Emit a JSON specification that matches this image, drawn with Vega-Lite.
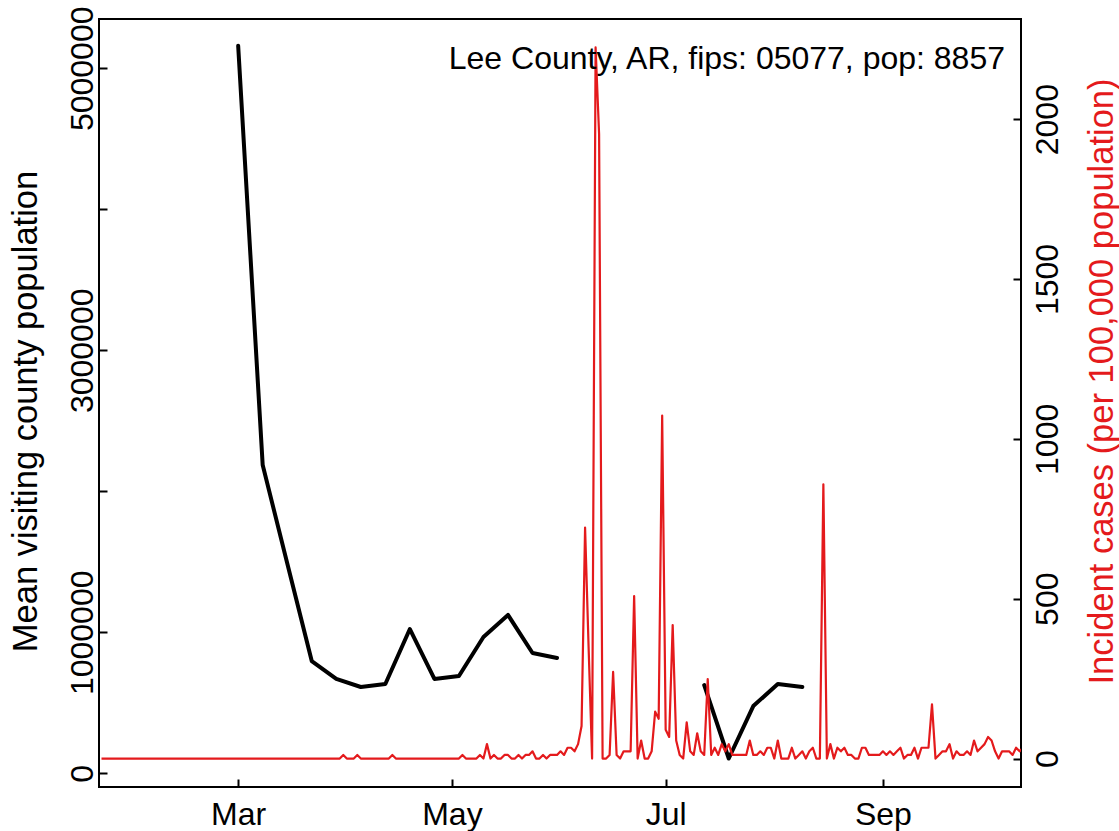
{
  "$schema": "https://vega.github.io/schema/vega-lite/v6.json",
  "width": 922,
  "height": 768,
  "autosize": {"type": "none"},
  "padding": {"left": 99, "top": 19, "right": 98, "bottom": 44},
  "background": "white",
  "config": {
    "font": "Liberation Sans",
    "view": {"stroke": "black", "strokeWidth": 2},
    "axis": {
      "labelFont": "Liberation Sans",
      "labelFontSize": 32,
      "labelColor": "black",
      "tickColor": "black",
      "tickWidth": 2,
      "tickSize": -8,
      "domain": false,
      "grid": false,
      "labelFlush": false,
      "labelOverlap": false,
      "labelBound": false,
      "titleFont": "Liberation Sans",
      "titleFontSize": 34.5,
      "titleFontWeight": "normal"
    }
  },
  "title": {
    "text": "Lee County, AR, fips: 05077, pop: 8857",
    "orient": "top",
    "anchor": "end",
    "frame": "group",
    "font": "Liberation Sans",
    "fontSize": 32,
    "fontWeight": "normal",
    "color": "black",
    "baseline": "alphabetic",
    "offset": -51,
    "dy": 44,
    "dx": -16
  },
  "datasets": {
    "visits": [
      {"date": "2020-03-01", "pop": 5160000, "segment": 1},
      {"date": "2020-03-08", "pop": 2186000, "segment": 1},
      {"date": "2020-03-15", "pop": 1490000, "segment": 1},
      {"date": "2020-03-22", "pop": 796000, "segment": 1},
      {"date": "2020-03-29", "pop": 669000, "segment": 1},
      {"date": "2020-04-05", "pop": 612000, "segment": 1},
      {"date": "2020-04-12", "pop": 633000, "segment": 1},
      {"date": "2020-04-19", "pop": 1023000, "segment": 1},
      {"date": "2020-04-26", "pop": 669000, "segment": 1},
      {"date": "2020-05-03", "pop": 690000, "segment": 1},
      {"date": "2020-05-10", "pop": 967000, "segment": 1},
      {"date": "2020-05-17", "pop": 1123000, "segment": 1},
      {"date": "2020-05-24", "pop": 853000, "segment": 1},
      {"date": "2020-05-31", "pop": 818000, "segment": 1},
      {"date": "2020-07-12", "pop": 626000, "segment": 2},
      {"date": "2020-07-19", "pop": 105000, "segment": 2},
      {"date": "2020-07-26", "pop": 477000, "segment": 2},
      {"date": "2020-08-02", "pop": 633000, "segment": 2},
      {"date": "2020-08-09", "pop": 612000, "segment": 2}
    ],
    "cases": [
      {"date": "2020-01-22", "cases": 0}, {"date": "2020-01-23", "cases": 0}, {"date": "2020-01-24", "cases": 0}, {"date": "2020-01-25", "cases": 0}, {"date": "2020-01-26", "cases": 0}, {"date": "2020-01-27", "cases": 0}, {"date": "2020-01-28", "cases": 0}, {"date": "2020-01-29", "cases": 0}, {"date": "2020-01-30", "cases": 0}, {"date": "2020-01-31", "cases": 0},
      {"date": "2020-02-01", "cases": 0}, {"date": "2020-02-02", "cases": 0}, {"date": "2020-02-03", "cases": 0}, {"date": "2020-02-04", "cases": 0}, {"date": "2020-02-05", "cases": 0}, {"date": "2020-02-06", "cases": 0}, {"date": "2020-02-07", "cases": 0}, {"date": "2020-02-08", "cases": 0}, {"date": "2020-02-09", "cases": 0}, {"date": "2020-02-10", "cases": 0},
      {"date": "2020-02-11", "cases": 0}, {"date": "2020-02-12", "cases": 0}, {"date": "2020-02-13", "cases": 0}, {"date": "2020-02-14", "cases": 0}, {"date": "2020-02-15", "cases": 0}, {"date": "2020-02-16", "cases": 0}, {"date": "2020-02-17", "cases": 0}, {"date": "2020-02-18", "cases": 0}, {"date": "2020-02-19", "cases": 0}, {"date": "2020-02-20", "cases": 0},
      {"date": "2020-02-21", "cases": 0}, {"date": "2020-02-22", "cases": 0}, {"date": "2020-02-23", "cases": 0}, {"date": "2020-02-24", "cases": 0}, {"date": "2020-02-25", "cases": 0}, {"date": "2020-02-26", "cases": 0}, {"date": "2020-02-27", "cases": 0}, {"date": "2020-02-28", "cases": 0}, {"date": "2020-02-29", "cases": 0},
      {"date": "2020-03-01", "cases": 0}, {"date": "2020-03-02", "cases": 0}, {"date": "2020-03-03", "cases": 0}, {"date": "2020-03-04", "cases": 0}, {"date": "2020-03-05", "cases": 0}, {"date": "2020-03-06", "cases": 0}, {"date": "2020-03-07", "cases": 0}, {"date": "2020-03-08", "cases": 0}, {"date": "2020-03-09", "cases": 0}, {"date": "2020-03-10", "cases": 0},
      {"date": "2020-03-11", "cases": 0}, {"date": "2020-03-12", "cases": 0}, {"date": "2020-03-13", "cases": 0}, {"date": "2020-03-14", "cases": 0}, {"date": "2020-03-15", "cases": 0}, {"date": "2020-03-16", "cases": 0}, {"date": "2020-03-17", "cases": 0}, {"date": "2020-03-18", "cases": 0}, {"date": "2020-03-19", "cases": 0}, {"date": "2020-03-20", "cases": 0},
      {"date": "2020-03-21", "cases": 0}, {"date": "2020-03-22", "cases": 0}, {"date": "2020-03-23", "cases": 0}, {"date": "2020-03-24", "cases": 0}, {"date": "2020-03-25", "cases": 0}, {"date": "2020-03-26", "cases": 0}, {"date": "2020-03-27", "cases": 0}, {"date": "2020-03-28", "cases": 0}, {"date": "2020-03-29", "cases": 0}, {"date": "2020-03-30", "cases": 0},
      {"date": "2020-03-31", "cases": 11.29},
      {"date": "2020-04-01", "cases": 0}, {"date": "2020-04-02", "cases": 0}, {"date": "2020-04-03", "cases": 0}, {"date": "2020-04-04", "cases": 11.29}, {"date": "2020-04-05", "cases": 0}, {"date": "2020-04-06", "cases": 0}, {"date": "2020-04-07", "cases": 0}, {"date": "2020-04-08", "cases": 0}, {"date": "2020-04-09", "cases": 0}, {"date": "2020-04-10", "cases": 0},
      {"date": "2020-04-11", "cases": 0}, {"date": "2020-04-12", "cases": 0}, {"date": "2020-04-13", "cases": 0}, {"date": "2020-04-14", "cases": 11.29}, {"date": "2020-04-15", "cases": 0}, {"date": "2020-04-16", "cases": 0}, {"date": "2020-04-17", "cases": 0}, {"date": "2020-04-18", "cases": 0}, {"date": "2020-04-19", "cases": 0}, {"date": "2020-04-20", "cases": 0},
      {"date": "2020-04-21", "cases": 0}, {"date": "2020-04-22", "cases": 0}, {"date": "2020-04-23", "cases": 0}, {"date": "2020-04-24", "cases": 0}, {"date": "2020-04-25", "cases": 0}, {"date": "2020-04-26", "cases": 0}, {"date": "2020-04-27", "cases": 0}, {"date": "2020-04-28", "cases": 0}, {"date": "2020-04-29", "cases": 0}, {"date": "2020-04-30", "cases": 0},
      {"date": "2020-05-01", "cases": 0}, {"date": "2020-05-02", "cases": 0}, {"date": "2020-05-03", "cases": 0}, {"date": "2020-05-04", "cases": 11.29}, {"date": "2020-05-05", "cases": 0}, {"date": "2020-05-06", "cases": 0}, {"date": "2020-05-07", "cases": 0}, {"date": "2020-05-08", "cases": 0}, {"date": "2020-05-09", "cases": 11.29}, {"date": "2020-05-10", "cases": 0},
      {"date": "2020-05-11", "cases": 45.16}, {"date": "2020-05-12", "cases": 0}, {"date": "2020-05-13", "cases": 11.29}, {"date": "2020-05-14", "cases": 0}, {"date": "2020-05-15", "cases": 0}, {"date": "2020-05-16", "cases": 11.29}, {"date": "2020-05-17", "cases": 11.29}, {"date": "2020-05-18", "cases": 0}, {"date": "2020-05-19", "cases": 0}, {"date": "2020-05-20", "cases": 11.29},
      {"date": "2020-05-21", "cases": 0}, {"date": "2020-05-22", "cases": 11.29}, {"date": "2020-05-23", "cases": 11.29}, {"date": "2020-05-24", "cases": 22.58}, {"date": "2020-05-25", "cases": 0}, {"date": "2020-05-26", "cases": 0}, {"date": "2020-05-27", "cases": 11.29}, {"date": "2020-05-28", "cases": 0}, {"date": "2020-05-29", "cases": 11.29}, {"date": "2020-05-30", "cases": 11.29},
      {"date": "2020-05-31", "cases": 11.29},
      {"date": "2020-06-01", "cases": 22.58}, {"date": "2020-06-02", "cases": 11.29}, {"date": "2020-06-03", "cases": 33.87}, {"date": "2020-06-04", "cases": 33.87}, {"date": "2020-06-05", "cases": 22.58}, {"date": "2020-06-06", "cases": 45.16}, {"date": "2020-06-07", "cases": 101.6}, {"date": "2020-06-08", "cases": 722.6}, {"date": "2020-06-09", "cases": 350}, {"date": "2020-06-10", "cases": 0},
      {"date": "2020-06-11", "cases": 2224.2}, {"date": "2020-06-12", "cases": 1953.3}, {"date": "2020-06-13", "cases": 0}, {"date": "2020-06-14", "cases": 0}, {"date": "2020-06-15", "cases": 11.29}, {"date": "2020-06-16", "cases": 270.97}, {"date": "2020-06-17", "cases": 11.29}, {"date": "2020-06-18", "cases": 0}, {"date": "2020-06-19", "cases": 22.58}, {"date": "2020-06-20", "cases": 22.58},
      {"date": "2020-06-21", "cases": 22.58}, {"date": "2020-06-22", "cases": 508.1}, {"date": "2020-06-23", "cases": 0}, {"date": "2020-06-24", "cases": 56.45}, {"date": "2020-06-25", "cases": 0}, {"date": "2020-06-26", "cases": 0}, {"date": "2020-06-27", "cases": 22.58}, {"date": "2020-06-28", "cases": 146.8}, {"date": "2020-06-29", "cases": 124.2}, {"date": "2020-06-30", "cases": 1072.6},
      {"date": "2020-07-01", "cases": 90.3}, {"date": "2020-07-02", "cases": 67.7}, {"date": "2020-07-03", "cases": 417.7}, {"date": "2020-07-04", "cases": 56.45}, {"date": "2020-07-05", "cases": 11.29}, {"date": "2020-07-06", "cases": 0}, {"date": "2020-07-07", "cases": 112.9}, {"date": "2020-07-08", "cases": 22.58}, {"date": "2020-07-09", "cases": 11.29}, {"date": "2020-07-10", "cases": 79.0},
      {"date": "2020-07-11", "cases": 22.58}, {"date": "2020-07-12", "cases": 11.29}, {"date": "2020-07-13", "cases": 248.4}, {"date": "2020-07-14", "cases": 11.29}, {"date": "2020-07-15", "cases": 33.87}, {"date": "2020-07-16", "cases": 11.29}, {"date": "2020-07-17", "cases": 45.16}, {"date": "2020-07-18", "cases": 22.58}, {"date": "2020-07-19", "cases": 45.16}, {"date": "2020-07-20", "cases": 11.29},
      {"date": "2020-07-21", "cases": 11.29}, {"date": "2020-07-22", "cases": 11.29}, {"date": "2020-07-23", "cases": 11.29}, {"date": "2020-07-24", "cases": 11.29}, {"date": "2020-07-25", "cases": 56.45}, {"date": "2020-07-26", "cases": 11.29}, {"date": "2020-07-27", "cases": 11.29}, {"date": "2020-07-28", "cases": 22.58}, {"date": "2020-07-29", "cases": 11.29}, {"date": "2020-07-30", "cases": 33.87},
      {"date": "2020-07-31", "cases": 33.87},
      {"date": "2020-08-01", "cases": 0}, {"date": "2020-08-02", "cases": 56.45}, {"date": "2020-08-03", "cases": 0}, {"date": "2020-08-04", "cases": 0}, {"date": "2020-08-05", "cases": 0}, {"date": "2020-08-06", "cases": 33.87}, {"date": "2020-08-07", "cases": 0}, {"date": "2020-08-08", "cases": 11.29}, {"date": "2020-08-09", "cases": 22.58}, {"date": "2020-08-10", "cases": 0},
      {"date": "2020-08-11", "cases": 22.58}, {"date": "2020-08-12", "cases": 33.87}, {"date": "2020-08-13", "cases": 0}, {"date": "2020-08-14", "cases": 0}, {"date": "2020-08-15", "cases": 857.8}, {"date": "2020-08-16", "cases": 0}, {"date": "2020-08-17", "cases": 45.16}, {"date": "2020-08-18", "cases": 0}, {"date": "2020-08-19", "cases": 33.87}, {"date": "2020-08-20", "cases": 22.58},
      {"date": "2020-08-21", "cases": 33.87}, {"date": "2020-08-22", "cases": 11.29}, {"date": "2020-08-23", "cases": 11.29}, {"date": "2020-08-24", "cases": 0}, {"date": "2020-08-25", "cases": 0}, {"date": "2020-08-26", "cases": 33.87}, {"date": "2020-08-27", "cases": 33.87}, {"date": "2020-08-28", "cases": 11.29}, {"date": "2020-08-29", "cases": 11.29}, {"date": "2020-08-30", "cases": 11.29},
      {"date": "2020-08-31", "cases": 11.29},
      {"date": "2020-09-01", "cases": 22.58}, {"date": "2020-09-02", "cases": 11.29}, {"date": "2020-09-03", "cases": 22.58}, {"date": "2020-09-04", "cases": 11.29}, {"date": "2020-09-05", "cases": 22.58}, {"date": "2020-09-06", "cases": 33.87}, {"date": "2020-09-07", "cases": 0}, {"date": "2020-09-08", "cases": 11.29}, {"date": "2020-09-09", "cases": 11.29}, {"date": "2020-09-10", "cases": 33.87},
      {"date": "2020-09-11", "cases": 0}, {"date": "2020-09-12", "cases": 33.87}, {"date": "2020-09-13", "cases": 33.87}, {"date": "2020-09-14", "cases": 33.87}, {"date": "2020-09-15", "cases": 169.4}, {"date": "2020-09-16", "cases": 0}, {"date": "2020-09-17", "cases": 11.29}, {"date": "2020-09-18", "cases": 22.58}, {"date": "2020-09-19", "cases": 22.58}, {"date": "2020-09-20", "cases": 45.16},
      {"date": "2020-09-21", "cases": 0}, {"date": "2020-09-22", "cases": 22.58}, {"date": "2020-09-23", "cases": 11.29}, {"date": "2020-09-24", "cases": 11.29}, {"date": "2020-09-25", "cases": 22.58}, {"date": "2020-09-26", "cases": 11.29}, {"date": "2020-09-27", "cases": 56.45}, {"date": "2020-09-28", "cases": 22.58}, {"date": "2020-09-29", "cases": 33.87}, {"date": "2020-09-30", "cases": 45.16},
      {"date": "2020-10-01", "cases": 67.74}, {"date": "2020-10-02", "cases": 56.45}, {"date": "2020-10-03", "cases": 22.58}, {"date": "2020-10-04", "cases": 0}, {"date": "2020-10-05", "cases": 22.58}, {"date": "2020-10-06", "cases": 22.58}, {"date": "2020-10-07", "cases": 22.58}, {"date": "2020-10-08", "cases": 11.29}, {"date": "2020-10-09", "cases": 33.87}, {"date": "2020-10-10", "cases": 22.58},
      {"date": "2020-10-11", "cases": 33.87}
    ]
  },
  "layer": [
    {
      "data": {"name": "visits"},
      "mark": {"type": "line", "color": "black", "strokeWidth": 4, "strokeCap": "round", "strokeJoin": "round", "clip": true},
      "encoding": {
        "x": {
          "field": "date",
          "type": "temporal",
          "scale": {
            "type": "utc",
            "domain": [
              {"year": 2020, "month": 1, "date": 21, "hours": 6, "minutes": 53, "utc": true},
              {"year": 2020, "month": 10, "date": 10, "hours": 9, "minutes": 36, "utc": true}
            ]
          },
          "axis": {
            "title": null,
            "values": [
              {"year": 2020, "month": 3, "date": 1, "utc": true},
              {"year": 2020, "month": 5, "date": 1, "utc": true},
              {"year": 2020, "month": 7, "date": 1, "utc": true},
              {"year": 2020, "month": 9, "date": 1, "utc": true}
            ],
            "labelExpr": "utcFormat(datum.value, '%b')",
            "labelAngle": 0,
            "labelAlign": "center",
            "labelBaseline": "alphabetic",
            "labelPadding": 45
          }
        },
        "y": {
          "field": "pop",
          "type": "quantitative",
          "scale": {"domain": [-97160, 5349600], "nice": false, "zero": false},
          "axis": {
            "orient": "left",
            "values": [0, 1000000, 2000000, 3000000, 4000000, 5000000],
            "format": "d",
            "labelExpr": "datum.value == 2000000 || datum.value == 4000000 ? '' : datum.label",
            "labelAngle": -90,
            "labelAlign": "center",
            "labelBaseline": "alphabetic",
            "labelPadding": 15,
            "title": "Mean visiting county population",
            "titleColor": "black",
            "titleAngle": -90,
            "titleAlign": "center",
            "titleBaseline": "alphabetic",
            "titleX": -63,
            "titleY": 392
          }
        },
        "detail": {"field": "segment", "type": "nominal"}
      }
    },
    {
      "data": {"name": "cases"},
      "mark": {"type": "line", "color": "#E41A1C", "strokeWidth": 2.2, "strokeJoin": "round", "clip": true},
      "encoding": {
        "x": {"field": "date", "type": "temporal"},
        "y": {
          "field": "cases",
          "type": "quantitative",
          "scale": {"domain": [-88.97, 2313.2], "nice": false, "zero": false},
          "axis": {
            "orient": "right",
            "values": [0, 500, 1000, 1500, 2000],
            "format": "d",
            "labelAngle": -90,
            "labelAlign": "center",
            "labelBaseline": "alphabetic",
            "labelPadding": 44,
            "title": "Incident cases (per 100,000 population)",
            "titleColor": "#E41A1C",
            "titleAngle": -90,
            "titleAlign": "center",
            "titleBaseline": "alphabetic",
            "titleX": 91,
            "titleY": 362
          }
        }
      }
    }
  ],
  "resolve": {"scale": {"y": "independent"}, "axis": {"y": "independent"}}
}
